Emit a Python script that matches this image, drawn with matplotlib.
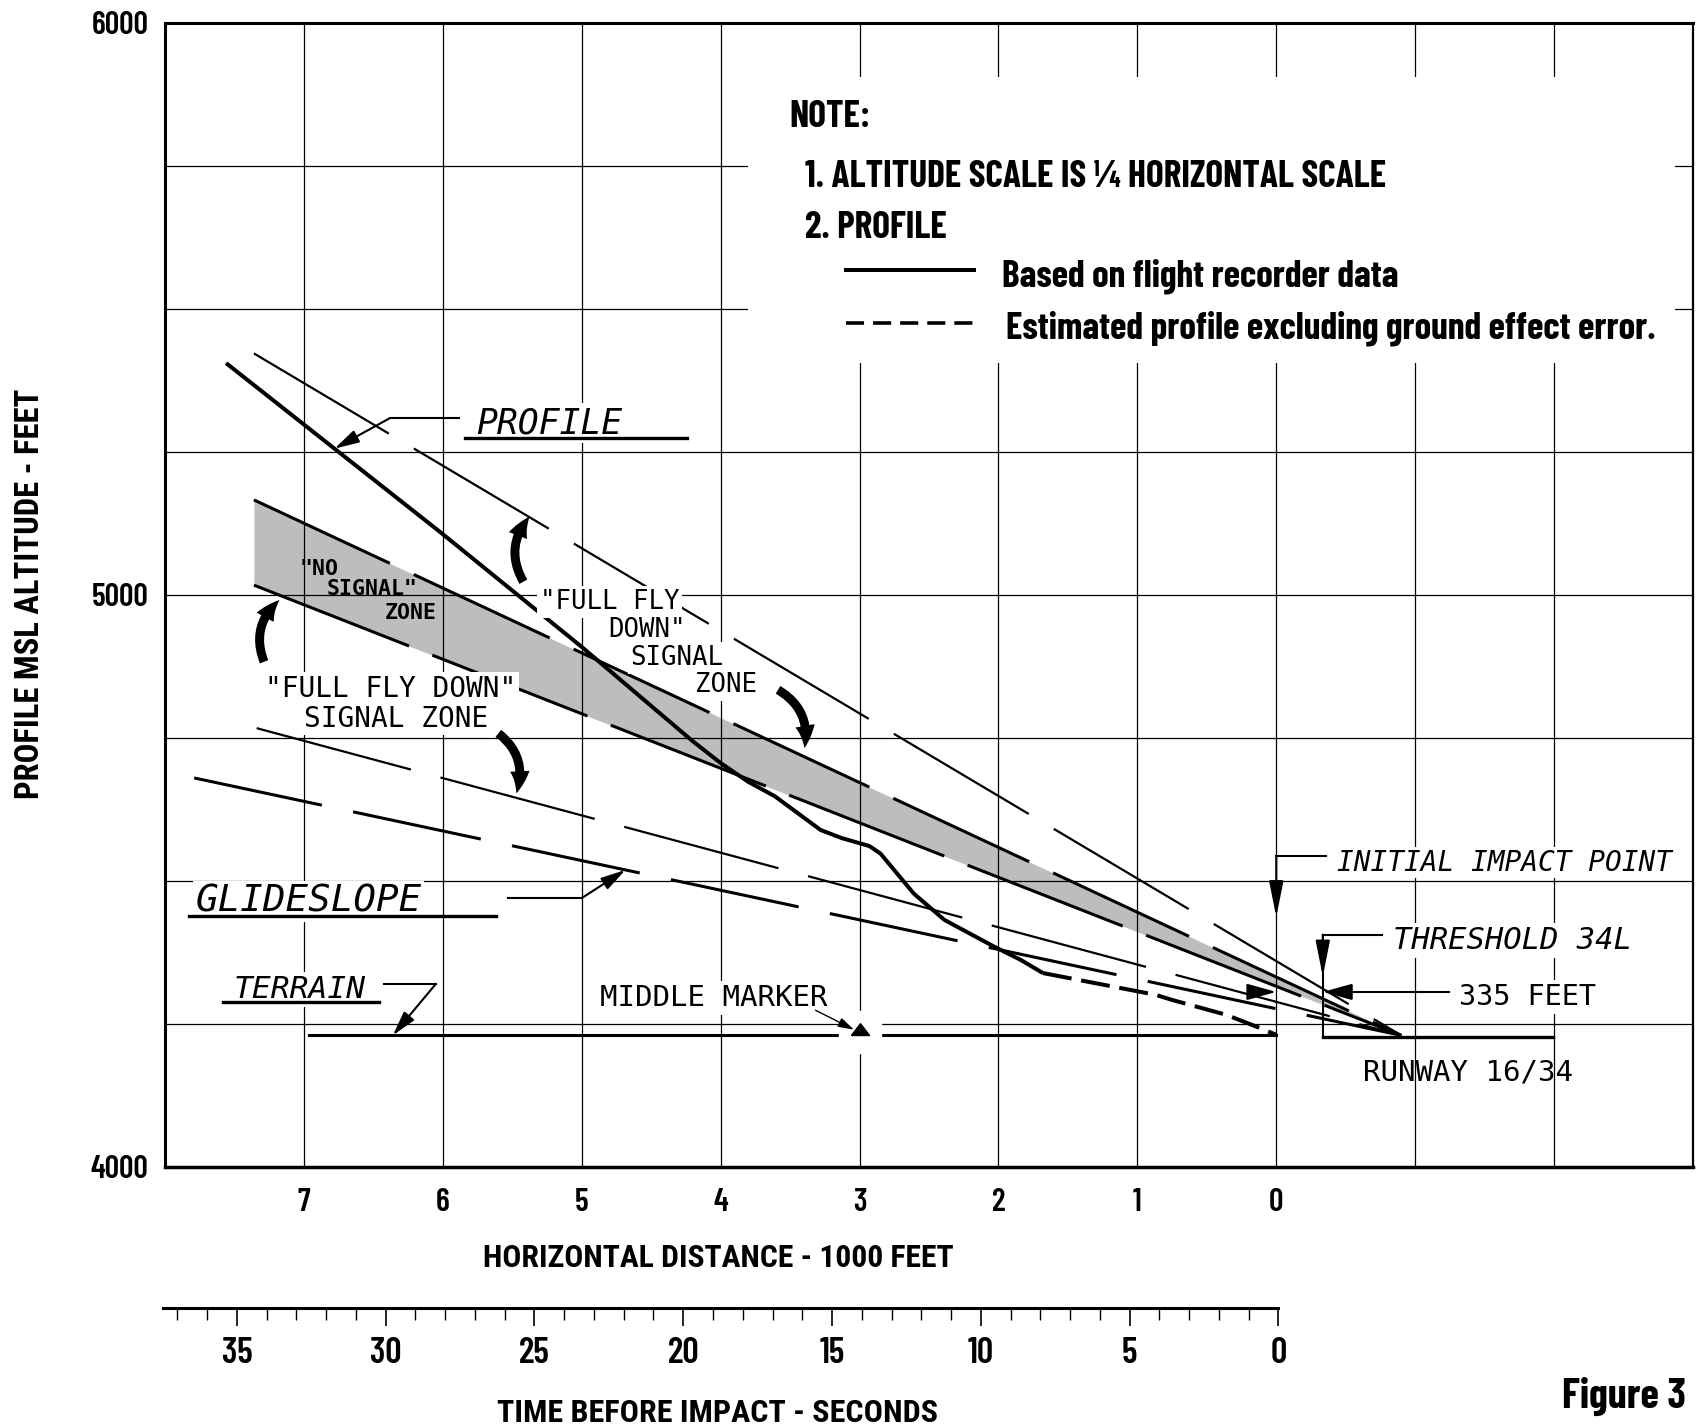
import numpy as np
import matplotlib
matplotlib.use('Agg')
import matplotlib.pyplot as plt
from matplotlib import font_manager
from matplotlib.patches import FancyArrowPatch, Rectangle
from matplotlib.lines import Line2D

# horizontal distance from the initial impact point (1000 ft), altitude (ft MSL)
profile_x = [7.56, 6.01, 5.00, 4.21, 4.00, 3.80, 3.61, 3.28, 3.13, 2.93, 2.85, 2.61, 2.39, 2.03, 1.84, 1.68]
profile_alt = [5405, 5108, 4909, 4746, 4706, 4673, 4648, 4589, 4575, 4561, 4548, 4478, 4432, 4385, 4362, 4339]
estimated_x = [1.68, 0.87, 0.75, 0.36, 0.14, 0.0]
estimated_alt = [4339, 4301, 4292, 4266, 4245, 4231]

# signal zone boundaries, all running down to the glide path origin
zone_x = [7.36, -0.90]
fly_down_upper_alt = [5422, 4230]
no_signal_top_alt = [5166, 4230]
no_signal_bottom_alt = [5017, 4230]
fly_down_lower_x = [7.34, -0.90]
fly_down_lower_alt = [4767, 4230]
glideslope_x = [7.79, -0.90]
glideslope_alt = [4680, 4230]

terrain_x = [6.96, 0.0]
terrain_alt = [4230, 4230]
runway_x = [-0.335, -1.99]
runway_alt = [4228, 4228]
middle_marker_x = 3.0
impact_x = 0.0
threshold_x = -0.335

dist_ticks = list(range(-2, 8))
dist_labels = [str(t) if t >= 0 else '' for t in dist_ticks]
alt_ticks = list(range(4000, 6001, 250))
alt_labels = [str(t) if t % 1000 == 0 else '' for t in alt_ticks]
time_major = list(range(0, 36, 5))
time_minor = list(range(0, 38))

plt.rcParams['lines.scale_dashes'] = False

names = {f.name for f in font_manager.fontManager.ttflist}


def pick(cands):
    for c in cands:
        if c in names:
            return c
    return 'DejaVu Sans'


NARROW = pick(['Barlow Condensed', 'Roboto Condensed'])
COND = pick(['Roboto Condensed', 'Barlow Condensed'])
LEROY = 'DejaVu Sans Mono'

W, H = 1699, 1427
fig = plt.figure(figsize=(W / 100, H / 100), dpi=100)


def fx(px):
    return px / W


def fy(py):
    return 1 - py / H


ax = fig.add_axes([fx(165), fy(1167), (1693 - 165) / W, (1167 - 22.7) / H])
ax.set_xlim(8, -3)
ax.set_ylim(4000, 6000)
ax.set_xticks(dist_ticks)
ax.set_xticklabels(dist_labels)
ax.set_yticks(alt_ticks)
ax.set_yticklabels(alt_labels)
ax.tick_params(length=0)
ax.tick_params(axis='x', pad=15)
ax.tick_params(axis='y', pad=12)
for lab in ax.get_xticklabels():
    lab.set_fontfamily(NARROW)
    lab.set_fontsize(23)
    lab.set_fontweight('semibold')
for lab in ax.get_yticklabels():
    lab.set_fontfamily(NARROW)
    lab.set_fontsize(23)
    lab.set_fontweight('semibold')
ax.grid(True, color='black', lw=0.9)
ax.set_axisbelow(False)
for side, w in [('top', 2.2), ('left', 2.2), ('bottom', 2.5), ('right', 1.6)]:
    ax.spines[side].set_linewidth(w)
    ax.spines[side].set_zorder(6)

# no signal zone shading and signal zone boundaries
ax.fill_between(zone_x, no_signal_bottom_alt, no_signal_top_alt, color='#bdbdbd', lw=0, zorder=1)
ax.plot(zone_x, no_signal_top_alt, color='black', lw=2.2, ls=(0, (108, 19)), zorder=3)
ax.plot(zone_x, no_signal_bottom_alt, color='black', lw=2.2, ls=(0, (120, 18)), zorder=3)
ax.plot(zone_x, fly_down_upper_alt, color='black', lw=1.6, ls=(0, (113, 21)), zorder=3)
ax.plot(fly_down_lower_x, fly_down_lower_alt, color='black', lw=1.6, ls=(0, (115, 22)), zorder=3)
ax.plot(glideslope_x, glideslope_alt, color='black', lw=2.2, ls=(0, (94, 23)), zorder=3)

# flight profile
ax.plot(profile_x, profile_alt, color='black', lw=2.9, zorder=4, solid_capstyle='butt')
ax.plot(estimated_x, estimated_alt, color='black', lw=2.9, ls=(0, (21, 7)), zorder=4)

# terrain, runway and middle marker
ax.plot(terrain_x, terrain_alt, color='black', lw=2.2, zorder=3)
ax.plot(runway_x, runway_alt, color='black', lw=2.4, zorder=3)
ax.plot([threshold_x, threshold_x], [runway_alt[0], 4406], color='black', lw=1.5, zorder=3)
ax.plot([middle_marker_x], [terrain_alt[0] + 6], marker='s', ms=30, color='white', zorder=3.5)
tri = [(-1, 0), (1, 0), (0, 1.3), (-1, 0)]
ax.plot([middle_marker_x], [terrain_alt[0]], marker=tri, ms=17, color='black', zorder=4)

# white panel behind the notes
ax.add_patch(Rectangle((0.3815, 0.7026), 0.6065, 0.25, transform=ax.transAxes,
                       facecolor='white', edgecolor='none', zorder=2.7))


def arrow(tail, tip, lw=1.5, hl=0.75, hw=0.2, ms=20):
    ax.annotate('', xy=tip, xytext=tail,
                arrowprops=dict(arrowstyle='-|>,head_length=%g,head_width=%g' % (hl, hw),
                                lw=lw, color='black', shrinkA=0, shrinkB=0, mutation_scale=ms),
                zorder=5)


box = dict(facecolor='white', edgecolor='none', pad=2)


def label(x, y, s, size, italic=False, bold=False, ha='left', bbox=True):
    ax.text(x, y, s, family=LEROY, style='oblique' if italic else 'normal',
            weight='bold' if bold else 'normal', fontsize=size, ha=ha, va='center_baseline',
            bbox=box if bbox else None, zorder=5)


# PROFILE label
label(5.757, 5306, 'PROFILE', 25, italic=True)
ax.plot([5.84, 4.24], [5274, 5274], color='black', lw=2.4, zorder=5)
ax.plot([5.88, 6.38], [5309, 5309], color='black', lw=1.5, zorder=5)
arrow((6.38, 5309), (6.78, np.interp(-6.78, [-x for x in profile_x], profile_alt)))

# GLIDESLOPE label
label(7.78, 4471, 'GLIDESLOPE', 27, italic=True)
ax.plot([7.83, 5.62], [4439, 4439], color='black', lw=2.4, zorder=5)
ax.plot([5.53, 5.0], [4470, 4470], color='black', lw=1.5, zorder=5)
gs_tip = 4.685
arrow((5.0, 4470), (gs_tip, np.interp(-gs_tip, [-x for x in glideslope_x], glideslope_alt)))

# TERRAIN label
label(7.51, 4316, 'TERRAIN', 22.5, italic=True)
ax.plot([7.58, 6.46], [4289, 4289], color='black', lw=2.4, zorder=5)
ax.plot([6.42, 6.05], [4320, 4320], color='black', lw=1.5, zorder=5)
arrow((6.05, 4320), (6.36, terrain_alt[0]))

# middle marker
label(4.87, 4301, 'MIDDLE MARKER', 21)
arrow((3.317, 4274), (middle_marker_x + 0.04, terrain_alt[0] + 10), lw=1.0, hl=0.6, hw=0.18, ms=16)

# initial impact point
ax.text(-0.436, 4537, 'INITIAL IMPACT POINT', family=LEROY, style='oblique', fontsize=20,
        va='center_baseline', ha='left', bbox=dict(facecolor='white', edgecolor='none', pad=1), zorder=5)
ax.plot([-0.36, impact_x], [4543, 4543], color='black', lw=1.5, zorder=5)
arrow((impact_x, 4543), (impact_x, 4437), hl=1.1, hw=0.22)

# threshold 34L
label(-0.84, 4401, 'THRESHOLD 34L', 22, italic=True)
ax.plot([-0.763, threshold_x], [4406, 4406], color='black', lw=1.5, zorder=5)
arrow((threshold_x, 4406), (threshold_x, 4333), hl=1.1, hw=0.22)

# 335 feet between impact point and threshold
label(-1.318, 4302, '335 FEET', 20.5)
ax.plot([-0.51, -1.243], [4306, 4306], color='black', lw=1.5, zorder=5)
arrow((-0.51, 4306), (threshold_x, 4306), hl=0.9, hw=0.25)
arrow((impact_x + 0.13, 4306), (impact_x, 4306), hl=0.9, hw=0.25)

label(-0.625, 4171, 'RUNWAY 16/34', 21, bbox=False)

# zone labels
label(6.887, 5048, '"NO', 15.5, bold=True, ha='center', bbox=False)
label(6.51, 5014, 'SIGNAL"', 15.5, bold=True, ha='center', bbox=False)
label(6.233, 4972, 'ZONE', 15.5, bold=True, ha='center', bbox=False)

label(6.377, 4841, '"FULL FLY DOWN"', 20, ha='center')
label(6.336, 4789, 'SIGNAL ZONE', 20, ha='center')

for (x, y, s) in [(4.80, 4993, '"FULL FLY'), (4.53, 4944, 'DOWN"'), (4.315, 4895, 'SIGNAL'), (3.96, 4848, 'ZONE')]:
    label(x, y, s, 18.5, ha='center')

# curved direction arrows
for tail, tip in [((5.42, 5023), (5.375, 5137)), ((7.287, 4883), (7.176, 4991)),
                  ((5.60, 4758), (5.47, 4653)), ((3.587, 4834), (3.396, 4732))]:
    ax.add_patch(FancyArrowPatch(tail, tip, arrowstyle='simple,head_length=1.15,head_width=1.0,tail_width=0.46',
                                 mutation_scale=14, connectionstyle='arc3,rad=-0.35', color='black',
                                 lw=0, shrinkA=0, shrinkB=0, zorder=5))

# notes
note = dict(family=NARROW, weight='bold', color='black', va='baseline', fontsize=27)
fig.text(fx(789), fy(126.7), 'NOTE:', **note)
fig.text(fx(805), fy(186.7), '1. ALTITUDE SCALE IS ¼ HORIZONTAL SCALE', **note)
fig.text(fx(805), fy(238), '2. PROFILE', **note)
fig.text(fx(1002.5), fy(286.7), 'Based on flight recorder data', **note)
fig.text(fx(1005.7), fy(338), 'Estimated profile excluding ground effect error.', **note)
fig.add_artist(Line2D([fx(846.5), fx(974)], [fy(270), fy(270)], transform=fig.transFigure,
                      color='black', lw=2.9))
fig.add_artist(Line2D([fx(846.5), fx(974)], [fy(323.3), fy(323.3)], transform=fig.transFigure,
                      color='black', lw=2.6, ls=(0, (13, 6.5))))

# axis titles
title = dict(family=COND, weight='bold', color='black')
fig.text(fx(30), fy(594), 'PROFILE MSL ALTITUDE - FEET', rotation=90, ha='center', va='center',
         fontsize=23.5, **title)
fig.text(fx(718.6), fy(1266.7), 'HORIZONTAL DISTANCE - 1000 FEET', ha='center', va='baseline',
         fontsize=22.8, **title)

# time scale
tax = fig.add_axes([fx(162.5), fy(1308), (1278.4 - 162.5) / W, 0.0001])
tax.set_xlim(37.5, 0)
tax.set_xticks(time_major)
tax.set_xticks(time_minor, minor=True)
tax.set_yticks([])
for side in ['top', 'left', 'right']:
    tax.spines[side].set_visible(False)
tax.spines['bottom'].set_linewidth(2.2)
tax.tick_params(axis='x', which='major', length=13.2, width=1.2, direction='out', pad=8)
tax.tick_params(axis='x', which='minor', length=8.4, width=1.0, direction='out')
for lab in tax.get_xticklabels():
    lab.set_fontfamily(NARROW)
    lab.set_fontsize(26)
    lab.set_fontweight('semibold')
tax.patch.set_visible(False)
fig.text(fx(718), fy(1421.7), 'TIME BEFORE IMPACT - SECONDS', ha='center', va='baseline',
         fontsize=23, **title)
fig.text(fx(1562), fy(1408), 'Figure 3', ha='left', va='baseline', fontsize=30.5,
         family=NARROW, weight='bold')

fig.savefig('out.png', dpi=100)
